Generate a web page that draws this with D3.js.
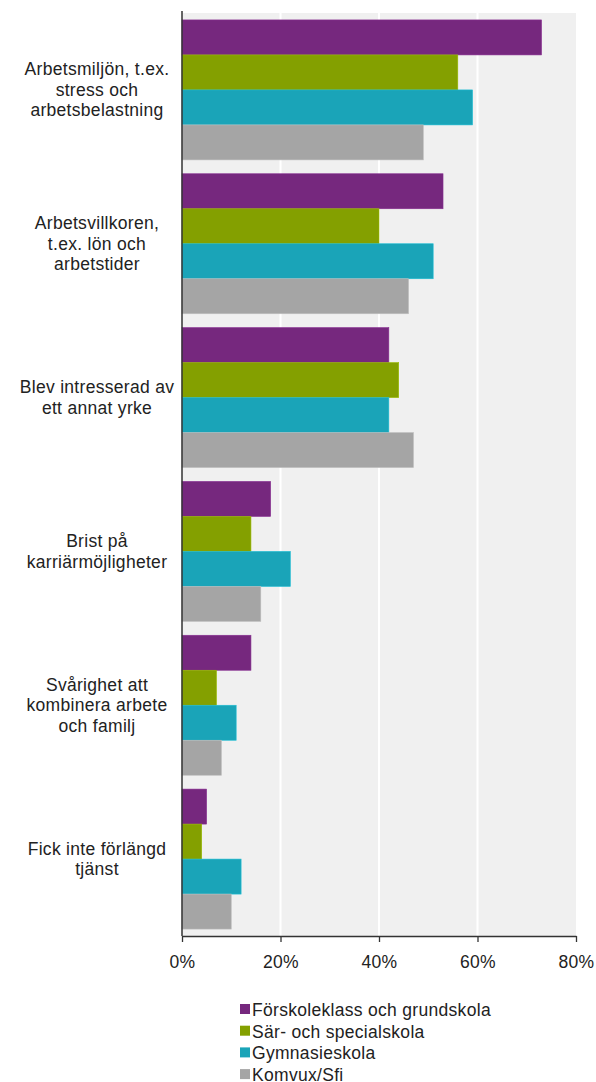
<!DOCTYPE html>
<html><head><meta charset="utf-8">
<script src="https://cdn.jsdelivr.net/npm/d3@7"></script>
<style>body{margin:0;background:#fff;}svg{display:block;font-family:"Liberation Sans",Arial,sans-serif;}</style>
</head><body>
<svg id="c" width="596" height="1082"></svg>
<script>
const categories = [
  ["Arbetsmiljön, t.ex.","stress och","arbetsbelastning"],
  ["Arbetsvillkoren,","t.ex. lön och","arbetstider"],
  ["Blev intresserad av","ett annat yrke"],
  ["Brist på","karriärmöjligheter"],
  ["Svårighet att","kombinera arbete","och familj"],
  ["Fick inte förlängd","tjänst"]
];
const seriesNames = ["Förskoleklass och grundskola","Sär- och specialskola","Gymnasieskola","Komvux/Sfi"];
const forskola = [73, 53, 42, 18, 14, 5];
const sarskola = [56, 40, 44, 14, 7, 4];
const gymnasie = [59, 51, 42, 22, 11, 12];
const komvux = [49, 46, 47, 16, 8, 10];
const colors = ["#76287e","#84a000","#1aa4b8","#a5a5a5"];
const ticks = [0,20,40,60,80];

const series = [forskola, sarskola, gymnasie, komvux];
const FS = 17.5, LS = 0.3;
const svg = d3.select("#c");
const m = {left:182, right:576, top:13, bottom:936};
const x = d3.scaleLinear().domain([0,80]).range([m.left,m.right]);
const y0 = d3.scaleBand().domain(d3.range(categories.length)).range([m.top,m.bottom]).paddingInner(0.09).paddingOuter(0.045);
const y1 = d3.scaleBand().domain(d3.range(series.length)).range([0,y0.bandwidth()]);

svg.append("rect").attr("x",m.left).attr("y",m.top).attr("width",m.right-m.left).attr("height",m.bottom-m.top).attr("fill","#f0f0f0");
svg.append("g").selectAll("line").data(ticks.slice(1,-1)).join("line")
  .attr("x1",d=>x(d)).attr("x2",d=>x(d)).attr("y1",m.top).attr("y2",m.bottom)
  .attr("stroke","#fff").attr("stroke-width",2);

const g = svg.append("g");
categories.forEach((c,i)=>{
  series.forEach((s,j)=>{
    g.append("rect").attr("x",x(0)).attr("y",y0(i)+y1(j))
      .attr("width",x(s[i])-x(0)).attr("height",y1.bandwidth())
      .attr("fill",colors[j]).attr("stroke",d3.color(colors[j]).brighter(0.4)).attr("stroke-width",0.6);
  });
  const cy = y0(i)+y0.bandwidth()/2;
  const lh = 20.5;
  const t = svg.append("text").attr("text-anchor","middle").attr("font-size",FS).attr("letter-spacing",LS).attr("fill","#222");
  c.forEach((line,k)=>{
    t.append("tspan").attr("x",97).attr("y",cy+(k-(c.length-1)/2)*lh+6).text(line);
  });
});

const ax = svg.append("g").attr("transform",`translate(0,${m.bottom})`)
  .call(d3.axisBottom(x).tickValues(ticks).tickFormat(d=>d+"%").tickSize(6).tickSizeOuter(0));
ax.select(".domain").attr("stroke","#333").attr("stroke-width",1.3);
ax.selectAll(".tick line").attr("stroke","#333").attr("stroke-width",1.3);
ax.selectAll(".tick text").attr("font-size",FS).attr("letter-spacing",LS).attr("fill","#222")
  .attr("y",32).attr("dy",0).attr("font-family","Liberation Sans, Arial, sans-serif");
svg.append("line").attr("x1",m.left).attr("x2",m.left).attr("y1",m.top-2).attr("y2",m.bottom).attr("stroke","#333").attr("stroke-width",1.5);

const lg = svg.append("g");
seriesNames.forEach((n,j)=>{
  const yy = 1004 + j*21.7;
  lg.append("rect").attr("x",240).attr("y",yy).attr("width",10).attr("height",10).attr("fill",colors[j]);
  lg.append("text").attr("x",252).attr("y",yy+12).attr("font-size",FS).attr("letter-spacing",LS).attr("fill","#222").text(n);
});
</script>
</body></html>
